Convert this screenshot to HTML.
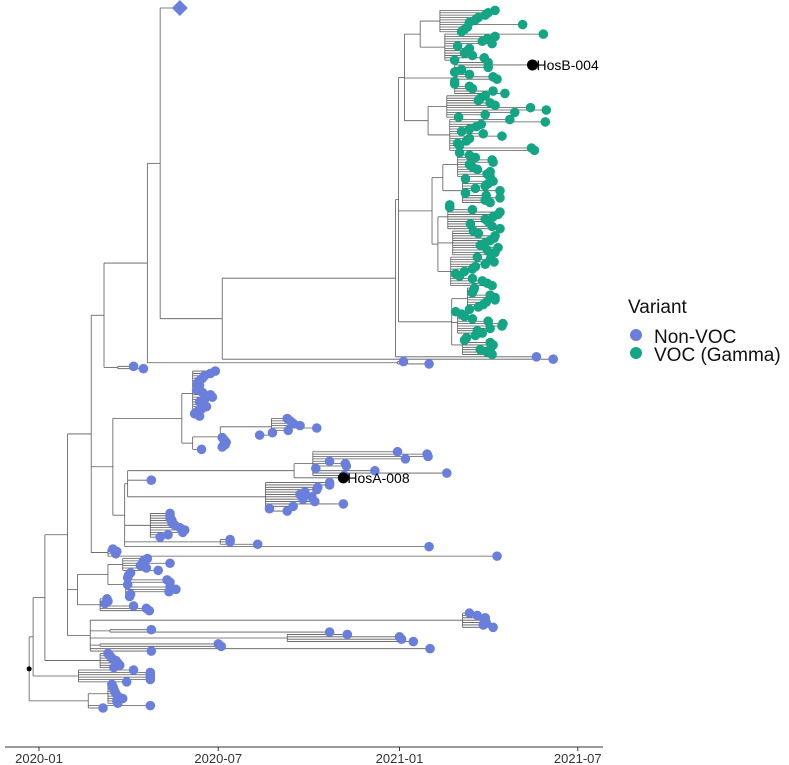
<!DOCTYPE html>
<html><head><meta charset="utf-8"><style>
html,body{margin:0;padding:0;background:#fff;}
svg{display:block;font-family:"Liberation Sans",sans-serif;}
</style></head><body>
<svg id="chart" width="789" height="765" viewBox="0 0 789 765" xmlns="http://www.w3.org/2000/svg">
<g id="tree"></g>
<g id="axis"></g>
<g id="legend">
  <text x="628" y="313" font-size="19" fill="#111">Variant</text>
  <circle cx="636" cy="335" r="6" fill="#6a7fdb"/>
  <text x="654" y="343" font-size="19" fill="#111">Non-VOC</text>
  <circle cx="636" cy="353" r="6" fill="#13a584"/>
  <text x="654" y="361" font-size="19" fill="#111">VOC (Gamma)</text>
</g>
</svg>
<script>
// tick data (days since 2020-01-01)
const tickDays = [0, 182, 366, 547];
const tickLabels = ["2020-01", "2020-07", "2021-01", "2021-07"];
// tree data: node = [day, ...children]; tip = day; ['G', day, ...] = gamma subtree
const g1a1 = [407, 463,456,453,446,443,437,491,435,432,429];
const g1a2 = [412, 512,463,455,450,460,425,437,435,432,440,452,422];
const g1b = [399, [422, 456, {d:501,label:'HosB-004'}, 456,429,422,437,461,465,422,422,437,440,461,473]];
const g1c1 = [414, 453,448,446,458,463,499,515,483,453,426];
const g1c2 = [417, 478,514,449,444,437,429,451,470,437,434,425,427,500,503];
const g2a = [425, 427,437,443,460,461,437,440,445,458,455,458];
const g2b = [430, 433,461,456,453,443,468,433,454,468,453,458];
const g2c = [415, 417,417,440,468,466,461,453,456,438,460,468];
const g2d = [420, 441,446,463,462,458,453,448,466,455,463,459];
const g2e = [418, 445,458,462,453,443,440,432,423,427,440,450,455,460];
const g3a = [435, 442,441,440,458,463,463,454,451,446,437];
const g3b = [425, 423,429,432,440,456,471,470,458,445,450];
const g3c = [430, 443,434,432,458,461,459,448,455,460];
const colA = [156, 179,174,168,166,163,161,163,161,160,166,174,176,168,163,165,170,165,161,158,163];
const colB = [156, [184, [236, 252,255,258,265,282,253,237,224], 186,188,190,189,186], 165];
const hosA = [259, [278, 364,394,395,372,295,311,312,281,341,414,310], {d:309,label:'HosA-008'}];
const clusterM = [230, 295,295,283,282,270,265,277,268,280,309,258,234,252];
const clusterL = [113, 133,133,133,135,135,138,143,148,146,131,123];
const C1 = [70, [85, 110,106,133,103,109,121], [88, 93,91,90,130,133,90,133,139,132,93,92]];
const C2 = [62, 69,70,67,96,109,112];
const L1 = [52, [110, [430, 437,445,453,452,454,451,461]], [72, 114, 295], [252, 313,366,368,380], [62, 182,185], 397, 114];
const C3 = [62, 70,72,74,78,80,82,76];
const C4 = [40, 96, 113,113,113,113, 89];
const C5 = [50, [70, 74,75,76,77,78,80,85,79,80], 113, 65];

const G = ['G', 365, [371, [387, g1a1, g1a2], g1b, [395, g1c1, g1c2]], [399, [410, g2a, g2b], [405, g2c, g2d, g2e]], [419, g3a, g3b, g3c]];
const N396 = [362, G, [387, 505]];
const N222 = [186, N396, 522];
const N160 = [123, {d:143, shape:'diamond'}, N222];
const N147 = [110, N160, [364, 370, 396]];
const N104 = [66, N147, [80, 96, 106]];
const N182 = [145, colA, colB];
const N128 = [90, hosA, 114, clusterM];
const N113 = [75, N182, [87, N128, clusterL, [184, 194,194,222], 396]];
const N91 = [53, N104, N113, [70, 75,79,78, 465]];
const ROOT = [-10, [-6, [6, [29, N91, [39, C1, C2], L1], C3], C4], C5];

const X0 = 39, PXD = 0.985;
function xs(d){ return X0 + d*PXD; }
const NS = 'http://www.w3.org/2000/svg';
const tree = document.getElementById('tree');
const linesG = document.createElementNS(NS,'g');


const tipsG = document.createElementNS(NS,'g');


tree.appendChild(linesG); tree.appendChild(tipsG);

function countTips(n){ if(typeof n==='number' || (n && !Array.isArray(n))) return 1; let s=0; const start = (n[0]==='G')?2:1; for(let i=start;i<n.length;i++) s+=countTips(n[i]); return s; }
const NT = countTips(ROOT);
const Y0 = 8, Y1 = 708;
const sp = (Y1-Y0)/(NT-1);
let row = 0;
const tipList = [];
function layout(n, green){
  if(typeof n==='number' || !Array.isArray(n)){
    const t = (typeof n==='number')?{d:n}:n;
    const y = Y0 + row*sp; row++;
    tipList.push({d:t.d, y:y, g:green, label:t.label, shape:t.shape});
    return {x:xs(t.d), y:y};
  }
  let start=1, g=green;
  if(n[0]==='G'){ start=2; g=true; }
  const day = n[start-1];
  const kids=[];
  for(let i=start;i<n.length;i++) kids.push(layout(n[i], g));
  const x = xs(day);
  const yTop = kids[0].y, yBot = kids[kids.length-1].y;
  const y = (yTop+yBot)/2;
  const v = document.createElementNS(NS,'line');
  v.setAttribute('x1',x); v.setAttribute('x2',x); v.setAttribute('y1',yTop); v.setAttribute('y2',yBot);
  v.setAttribute('stroke','#5a5a5a'); v.setAttribute('stroke-width','0.8');
  
  
  linesG.appendChild(v);
  kids.forEach(k=>{
    const h = document.createElementNS(NS,'line');
    h.setAttribute('x1',x); h.setAttribute('x2',k.x); h.setAttribute('y1',k.y); h.setAttribute('y2',k.y);
    h.setAttribute('stroke','#5a5a5a'); h.setAttribute('stroke-width','0.8');
    
    
    linesG.appendChild(h);
  });
  return {x:x, y:y};
}
const rootPos = layout(ROOT, false);
const rootH = document.createElementNS(NS,'circle');
rootH.setAttribute('cx', rootPos.x); rootH.setAttribute('cy', rootPos.y); rootH.setAttribute('r', 2.5); rootH.setAttribute('fill','#000');


tree.appendChild(rootH);

tipList.forEach(t=>{
  const x = xs(t.d);
  if(t.shape==='diamond'){
    const p = document.createElementNS(NS,'polygon');
    p.setAttribute('points', `${x},${t.y-8} ${x+8},${t.y} ${x},${t.y+8} ${x-8},${t.y}`);
    p.setAttribute('fill','#6a7fdb');
    
    
    tipsG.appendChild(p);
    return;
  }
  const c = document.createElementNS(NS,'circle');
  c.setAttribute('cx', x); c.setAttribute('cy', t.y);
  if(t.label){
    c.setAttribute('r', 5.5); c.setAttribute('fill', '#000');
    
    
  } else {
    c.setAttribute('r', 4.8); c.setAttribute('fill', t.g ? '#13a584' : '#6a7fdb');
    
    
  }
  tipsG.appendChild(c);
  if(t.label){
    const tx = document.createElementNS(NS,'text');
    tx.setAttribute('x', x+4); tx.setAttribute('y', t.y+5);
    tx.setAttribute('font-size', 14); tx.setAttribute('fill','#000');
    tx.textContent = t.label;
    
    
    tipsG.appendChild(tx);
  }
});

const axis = document.getElementById('axis');
const al = document.createElementNS(NS,'line');
al.setAttribute('x1',5); al.setAttribute('x2',603); al.setAttribute('y1',747); al.setAttribute('y2',747);
al.setAttribute('stroke','#333'); al.setAttribute('stroke-width','1');


axis.appendChild(al);
tickDays.forEach((d,i)=>{
  const x = xs(d);
  const tk = document.createElementNS(NS,'line');
  tk.setAttribute('x1',x); tk.setAttribute('x2',x); tk.setAttribute('y1',747); tk.setAttribute('y2',751);
  tk.setAttribute('stroke','#333');
  
  
  axis.appendChild(tk);
  const tl = document.createElementNS(NS,'text');
  tl.setAttribute('x',x); tl.setAttribute('y',763); tl.setAttribute('text-anchor','middle');
  tl.setAttribute('font-size',13); tl.setAttribute('fill','#333');
  tl.textContent = tickLabels[i];
  
  
  axis.appendChild(tl);
});
</script>
</body></html>
